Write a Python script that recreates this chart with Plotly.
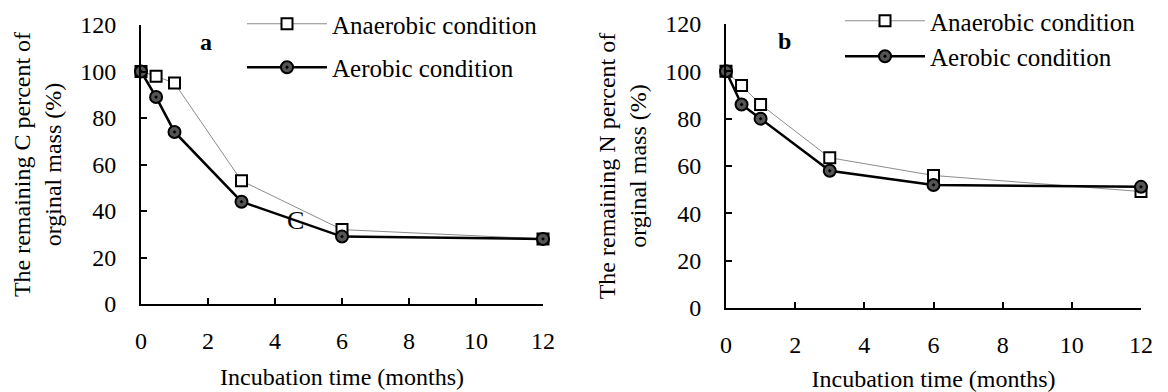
import plotly.graph_objects as go

# ---- data ----
months = [0, 0.45, 1, 3, 6, 12]
c_anaerobic = [100, 98, 95, 53, 32, 28]
c_aerobic = [100, 89, 74, 44, 29, 28]
n_anaerobic = [100, 94, 86, 63.5, 56, 49.2]
n_aerobic = [100, 86, 80, 58, 52, 51.2]
series_names = ["Anaerobic condition", "Aerobic condition"]
x_ticks = [0, 2, 4, 6, 8, 10, 12]
y_ticks = [0, 20, 40, 60, 80, 100, 120]
x_title = "Incubation time (months)"
y_title_c = "The remaining C percent of<br>orginal mass (%)"
y_title_n = "The remaining N percent of<br>orginal mass (%)"

FONT = "Liberation Serif"
W, H = 1168, 392

fig = go.Figure()

def add_panel(xa, ya, leg, anaer, aer):
    fig.add_trace(go.Scatter(
        x=months, y=anaer, name=series_names[0], mode="lines+markers",
        xaxis=xa, yaxis=ya, legend=leg, legendgroup=leg + "a",
        line=dict(color="#8c8c8c", width=1),
        marker=dict(symbol="square", size=11, color="white",
                    line=dict(color="black", width=2)),
        cliponaxis=False))
    fig.add_trace(go.Scatter(
        x=months, y=aer, name=series_names[1], mode="lines+markers",
        xaxis=xa, yaxis=ya, legend=leg, legendgroup=leg + "b",
        line=dict(color="black", width=2.5),
        marker=dict(symbol="circle-dot", size=12, color="#555555",
                    line=dict(color="black", width=2)),
        cliponaxis=False))

add_panel("x", "y", "legend", c_anaerobic, c_aerobic)
add_panel("x2", "y2", "legend2", n_anaerobic, n_aerobic)

def xax(domain, anchor):
    return dict(domain=domain, anchor=anchor, range=[0, 12], tickvals=x_ticks,
                automargin=False,
                showline=True, linecolor="black", linewidth=2, mirror=False,
                ticks="inside", ticklen=6, tickwidth=2, tickcolor="black",
                showgrid=False, zeroline=False, ticklabelstandoff=14,
                tickfont=dict(family=FONT, size=24, color="black"),
                title=dict(text=x_title, standoff=15,
                           font=dict(family=FONT, size=24, color="black")))

def yax(domain, anchor, title):
    return dict(domain=domain, anchor=anchor, range=[0, 120], tickvals=y_ticks,
                automargin=False,
                showline=True, linecolor="black", linewidth=2,
                ticks="inside", ticklen=6, tickwidth=2, tickcolor="black",
                showgrid=False, zeroline=False, ticklabelstandoff=18,
                tickfont=dict(family=FONT, size=24, color="black"),
                title=dict(text=title, standoff=12,
                           font=dict(family=FONT, size=24, color="black")))

fig.update_layout(
    template="none",
    width=W, height=H,
    margin=dict(l=0, r=0, t=0, b=0, autoexpand=False),
    paper_bgcolor="white", plot_bgcolor="white",
    font=dict(family=FONT, size=24, color="black"),
    xaxis=xax([141 / W, 543 / W], "y"),
    yaxis=yax([(H - 304) / H, (H - 25) / H], "x", y_title_c),
    xaxis2=xax([726 / W, 1141 / W], "y2"),
    yaxis2=yax([(H - 308) / H, (H - 24) / H], "x2", y_title_n),
    legend=dict(x=242 / W, y=1 - 1 / H, xanchor="left", yanchor="top",
                bgcolor="rgba(0,0,0,0)", itemwidth=80, tracegroupgap=8,
                font=dict(family=FONT, size=25, color="black")),
    legend2=dict(x=840 / W, y=1 + 2 / H, xanchor="left", yanchor="top",
                 bgcolor="rgba(0,0,0,0)", itemwidth=80, tracegroupgap=0,
                 font=dict(family=FONT, size=25, color="black")),
    showlegend=True,
    annotations=[
        dict(text="<b>a</b>", x=1.94, y=112.7, xref="x", yref="y", showarrow=False,
             font=dict(family=FONT, size=24, color="black")),
        dict(text="C", x=4.6, y=36, xref="x", yref="y", showarrow=False,
             font=dict(family=FONT, size=26, color="black")),
        dict(text="<b>b</b>", x=1.7, y=113, xref="x2", yref="y2", showarrow=False,
             font=dict(family=FONT, size=24, color="black")),
    ],
)

fig.write_html("out.html")
